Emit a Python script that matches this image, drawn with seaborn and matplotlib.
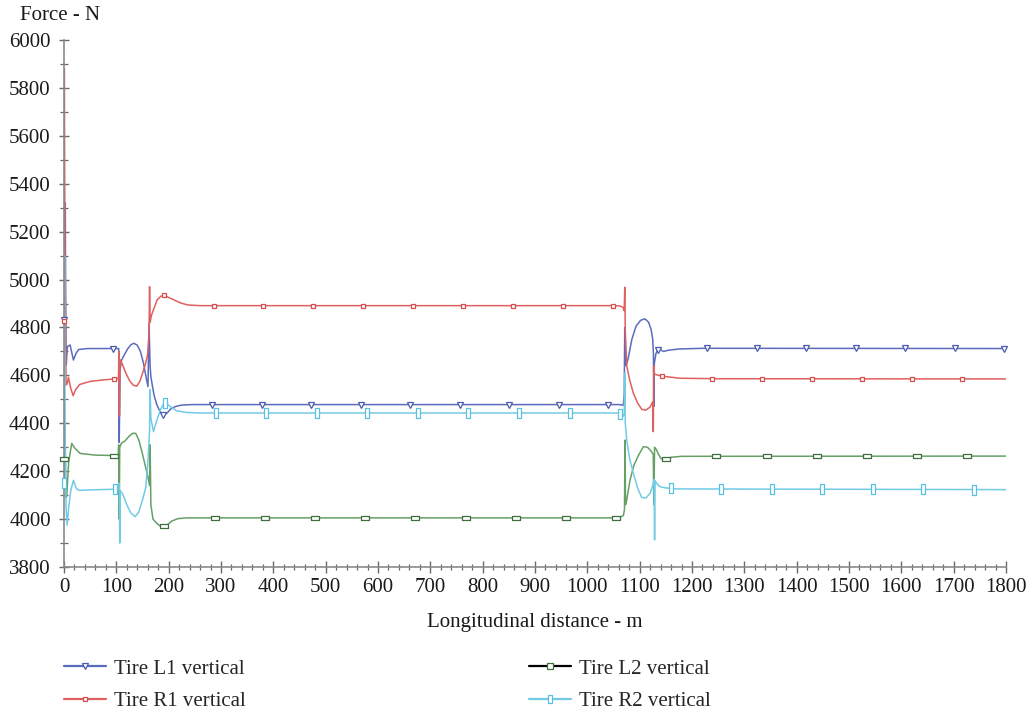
import numpy as np
import pandas as pd
import seaborn as sns
import matplotlib
matplotlib.use("Agg")
import matplotlib.pyplot as plt
from matplotlib.path import Path
from matplotlib.lines import Line2D
from matplotlib.ticker import MultipleLocator

# ---- vertical tire forces along the route (distance in m, force in N) ----
l1_dist = [0, 0.8, 1.6, 2.4, 3.3, 4.3, 6.4, 11.6, 18, 23, 28, 45, 103, 104.5, 105.5, 107,
           110, 115, 122, 128, 133.5, 140, 146, 152, 157, 160.5, 162.5, 164.5, 166, 169,
           172, 177, 182, 187, 191, 197, 204, 213, 225, 245, 1060, 1068.8, 1070.5, 1071.5,
           1072.5, 1074, 1078, 1085, 1093, 1102, 1110, 1117, 1122, 1125, 1126.3, 1127, 1128,
           1131, 1135.7, 1140, 1146, 1155, 1175, 1220, 1800]
l1_force = [4830, 5100, 4950, 5320, 4870, 4643, 4720, 4727, 4664, 4692, 4708, 4712, 4712, 4712,
            4320, 4620, 4664, 4685, 4712, 4728, 4734, 4726, 4700, 4650, 4590, 4553, 4817, 4640,
            4595, 4555, 4518, 4480, 4455, 4438, 4434, 4443, 4460, 4470, 4476, 4478, 4478, 4476,
            4520, 4800, 4690, 4640, 4670, 4750, 4805, 4830, 4836, 4822, 4790, 4750, 4690, 4470,
            4650, 4690, 4713, 4706, 4700, 4705, 4710, 4713, 4712]

r1_dist = [0, 0.6, 1.2, 2.0, 2.8, 4.0, 6.0, 8.5, 13, 17.5, 22, 30, 50, 80, 104, 105, 106, 107.2,
           111, 118, 126, 133, 139, 145, 151, 156, 160, 162.5, 163.5, 164.5, 167, 172, 178, 185,
           191, 200, 210, 222, 236, 260, 1040, 1062, 1068, 1070.5, 1071.5, 1072.5, 1075.3, 1081,
           1088, 1096, 1104, 1112, 1120, 1125, 1126, 1126.8, 1128.5, 1133, 1145, 1177, 1250, 1800]
r1_force = [4825, 5880, 5500, 5100, 4850, 4560, 4565, 4592, 4545, 4515, 4540, 4562, 4575, 4582,
            4586, 4700, 4430, 4665, 4650, 4610, 4575, 4558, 4555, 4575, 4615, 4650, 4690, 4780,
            4970, 4820, 4850, 4880, 4915, 4930, 4935, 4925, 4915, 4903, 4894, 4891, 4891, 4890,
            4884, 4870, 4968, 4790, 4640, 4580, 4525, 4485, 4458, 4455, 4468, 4490, 4365, 4640,
            4605, 4602, 4596, 4588, 4586, 4585]

l2_dist = [0, 0.8, 1.6, 2.5, 3.5, 5.1, 9, 14.8, 21, 31, 60, 103.5, 104.5, 105.5, 106.5, 110,
           116, 124, 131, 137, 143, 149, 155, 160, 163.5, 164.5, 166, 170, 176, 183, 190, 197,
           206, 218, 235, 1060, 1068.8, 1071, 1072, 1073, 1075.3, 1081.6, 1089, 1097.5, 1107,
           1115, 1123, 1126, 1127, 1128.5, 1132, 1136, 1141, 1147, 1160, 1180, 1800]
l2_force = [4250, 4420, 4180, 4300, 4090, 4094, 4240, 4316, 4295, 4274, 4267, 4265, 4310, 4000,
            4300, 4318, 4325, 4345, 4358, 4358, 4330, 4280, 4225, 4180, 4140, 4310, 4060, 4000,
            3985, 3972, 3968, 3975, 3992, 4002, 4005, 4005, 4015, 4040, 4330, 4060, 4080, 4163,
            4225, 4265, 4302, 4300, 4281, 4270, 4060, 4300, 4290, 4270, 4252, 4250, 4258, 4262,
            4263]

r2_dist = [0, 0.5, 1.0, 1.6, 2.5, 4.0, 6.0, 9, 13, 18, 23, 28, 50, 104.5, 105.5, 106.5, 107.5,
           112, 120, 128, 136, 143, 150, 156, 160, 163.5, 164.5, 166, 171, 177, 184, 190, 195,
           203, 215, 235, 260, 1060, 1068.8, 1070.5, 1071.5, 1072.5, 1075.3, 1081, 1088, 1096,
           1104, 1112, 1120, 1125, 1127.5, 1128.5, 1129.5, 1134, 1139, 1150, 1170, 1800]
r2_force = [4150, 4800, 5100, 4600, 4300, 4050, 3975, 4050, 4120, 4162, 4130, 4120, 4122, 4125,
            4150, 3900, 4120, 4105, 4060, 4025, 4010, 4030, 4080, 4130, 4230, 4370, 4540, 4420,
            4365, 4410, 4455, 4480, 4485, 4470, 4452, 4445, 4443, 4443, 4430, 4440, 4610, 4400,
            4330, 4250, 4191, 4130, 4090, 4088, 4108, 4140, 4165, 3913, 4160, 4145, 4135, 4130,
            4126, 4123]

tire_names = ["Tire L1 vertical", "Tire R1 vertical", "Tire L2 vertical", "Tire R2 vertical"]
x_ticks = list(range(0, 1801, 100))
y_ticks = list(range(3800, 6001, 200))

# ---- styling ----
colors = {"Tire L1 vertical": "#5b6bbd", "Tire R1 vertical": "#e0605f",
          "Tire L2 vertical": "#66a066", "Tire R2 vertical": "#72cbe6"}
marker_edge = {"Tire L1 vertical": "#4a5ab0", "Tire R1 vertical": "#d84c4c",
               "Tire L2 vertical": "#3f6e3f", "Tire R2 vertical": "#5cc0e0"}
wide_box = Path([(-1, -0.55), (1, -0.55), (1, 0.55), (-1, 0.55), (-1, -0.55)],
                [Path.MOVETO, Path.LINETO, Path.LINETO, Path.LINETO, Path.CLOSEPOLY])
tall_box = Path([(-0.45, -1), (0.45, -1), (0.45, 1), (-0.45, 1), (-0.45, -1)],
                [Path.MOVETO, Path.LINETO, Path.LINETO, Path.LINETO, Path.CLOSEPOLY])
markers = {"Tire L1 vertical": ("v", 4.6), "Tire R1 vertical": ("s", 3.4),
           "Tire L2 vertical": (wide_box, 5.8), "Tire R2 vertical": (tall_box, 7.0)}
marker_step = {"Tire L1 vertical": 94.55, "Tire R1 vertical": 95.3,
               "Tire L2 vertical": 95.9, "Tire R2 vertical": 96.6}

sns.set_theme(style="white")
plt.rcParams["font.family"] = ["Liberation Serif", "DejaVu Serif"]

series = {
    "Tire L1 vertical": (l1_dist, l1_force),
    "Tire R1 vertical": (r1_dist, r1_force),
    "Tire L2 vertical": (l2_dist, l2_force),
    "Tire R2 vertical": (r2_dist, r2_force),
}
df = pd.concat(
    [pd.DataFrame({"distance": d, "force": f, "tire": name}) for name, (d, f) in series.items()],
    ignore_index=True,
)

W, H = 1031, 714
fig = plt.figure(figsize=(W / 100, H / 100), dpi=100)
ax = fig.add_axes([64 / W, 1 - 567 / H, (1006 - 64) / W, (567 - 40) / H])

sns.lineplot(data=df, x="distance", y="force", hue="tire", hue_order=tire_names,
             palette=colors, sort=False, estimator=None, linewidth=1.1,
             legend=False, ax=ax)

for name, (d, f) in series.items():
    mx = np.arange(0, 1800, marker_step[name])
    my = np.interp(mx, d, f)
    mk, ms = markers[name]
    ax.plot(mx, my, ls="none", marker=mk, ms=ms, mfc="white",
            mec=marker_edge[name], mew=0.9, clip_on=False, zorder=4)

ax.set_xlim(0, 1800)
ax.set_ylim(3800, 6000)
ax.set_xticks(x_ticks)
ax.set_yticks(y_ticks)
ax.xaxis.set_minor_locator(MultipleLocator(20))
ax.yaxis.set_minor_locator(MultipleLocator(100))
ax.set_xlabel("")
ax.set_ylabel("")

for side in ("top", "right"):
    ax.spines[side].set_visible(False)
for side in ("left", "bottom"):
    ax.spines[side].set_color("#8a8a8a")
    ax.spines[side].set_linewidth(1.2)

ax.tick_params(axis="both", which="both", direction="inout", colors="#6a6a6a",
               labelcolor="#1a1a1a", labelsize=15, bottom=True, left=True)
ax.tick_params(axis="x", which="major", length=8, width=1.0, pad=4)
ax.tick_params(axis="x", which="minor", length=5, width=0.9)
ax.tick_params(axis="y", which="major", length=7, width=1.0, pad=6)
ax.tick_params(axis="y", which="minor", length=6, width=0.9)

fig.text(20 / W, 1 - 15 / H, "Force - N", fontsize=15, ha="left", va="center", color="#1a1a1a")
fig.text(535 / W, 1 - 623 / H, "Longitudinal distance - m", fontsize=15,
         ha="center", va="center", color="#1a1a1a")

# legend: two columns of two entries under the plot
handles = {}
for name in tire_names:
    mk, ms = markers[name]
    line_color = "black" if name == "Tire L2 vertical" else colors[name]
    leg_marker = "s" if name == "Tire L2 vertical" else mk
    handles[name] = Line2D([], [], color=line_color, lw=1.6, marker=leg_marker,
                           ms=min(ms, 4.5) if name != "Tire R2 vertical" else 6.0,
                           mfc="white", mec=marker_edge[name], mew=0.9)

for names, x0 in ((tire_names[:2], 64), (tire_names[2:], 529)):
    fig.legend(handles=[handles[n] for n in names], labels=names, loc="upper left",
               bbox_to_anchor=(x0 / W, 1 - 659 / H), frameon=False, fontsize=15,
               handlelength=2.0, handletextpad=0.4, labelspacing=0.62,
               borderpad=0, borderaxespad=0)

fig.savefig("out.png", dpi=100)
